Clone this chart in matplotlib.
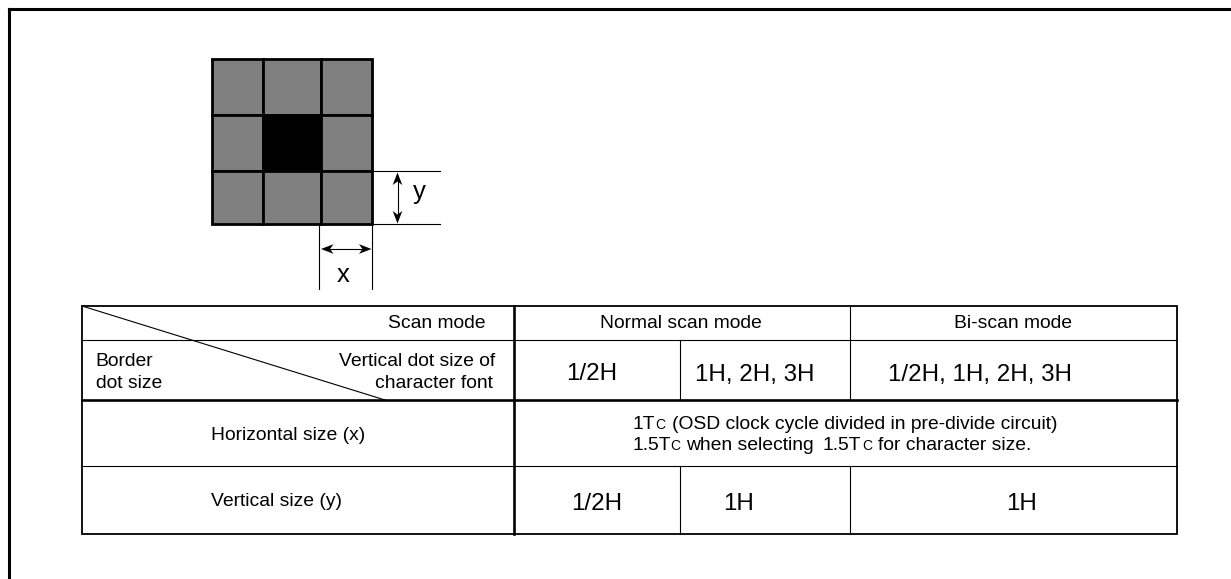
import matplotlib
matplotlib.use("Agg")
import matplotlib.pyplot as plt
from matplotlib.patches import Rectangle, Polygon

W, H = 1231, 579
plt.rcParams['font.family'] = ['Liberation Sans', 'DejaVu Sans']

# dot grid
grid_x = [212, 263, 321, 372]
grid_y = [59, 115, 171, 224]
grid_fill = [['#808080', '#808080', '#808080'],
             ['#808080', '#000000', '#808080'],
             ['#808080', '#808080', '#808080']]

# table lines
tx = [82, 513.5, 680, 849.5, 1177]
ty = [306, 340, 400, 466, 534]

# table texts: (x, baseline y, text, size, ha)
small = 13.9
large = 17.4
sub = 10.0
labels = [
    (486, 328.5, 'Scan mode', small, 'right'),
    (95.5, 366.5, 'Border', small, 'left'),
    (96, 388.5, 'dot size', small, 'left'),
    (495, 366.5, 'Vertical dot size of', small, 'right'),
    (493, 387.5, 'character font', small, 'right'),
    (365, 439.5, 'Horizontal size (x)', small, 'right'),
    (342, 505.5, 'Vertical size (y)', small, 'right'),
    (681, 328.5, 'Normal scan mode', small, 'center'),
    (1013, 328.5, 'Bi-scan mode', small, 'center'),
    (592, 380.5, '1/2H', large, 'center'),
    (754.5, 380.5, '1H, 2H, 3H', large, 'center'),
    (980, 380.5, '1/2H, 1H, 2H, 3H', large, 'center'),
    (596.5, 510.5, '1/2H', large, 'center'),
    (739, 510.5, '1H', large, 'center'),
    (1022, 510.5, '1H', large, 'center'),
]
note = [
    (633, 429, '1T', small), (655, 429, 'C', sub),
    (672, 429, '(OSD clock cycle divided in pre-divide circuit)', small),
    (633, 449.5, '1.5T', small), (670, 449.5, 'C', sub),
    (686, 449.5, 'when selecting', small), (823, 449.5, '1.5T', small),
    (862, 449.5, 'C', sub), (878, 449.5, 'for character size.', small),
]

fig = plt.figure(figsize=(W / 100, H / 100), dpi=100)
ax = fig.add_axes([0, 0, 1, 1])
ax.set_xlim(0, W)
ax.set_ylim(H, 0)
ax.axis('off')


def line(x0, y0, x1, y1, lw=1.0):
    ax.plot([x0, x1], [y0, y1], color='black', lw=lw, solid_capstyle='projecting')


def head(tx_, ty_, dx, dy, length=12.5, half=4.8, notch=9.0):
    """Concave arrow head with its tip at (tx_, ty_), pointing along (dx, dy)."""
    px, py = -dy, dx
    pts = [(tx_, ty_),
           (tx_ - dx * length + px * half, ty_ - dy * length + py * half),
           (tx_ - dx * notch, ty_ - dy * notch),
           (tx_ - dx * length - px * half, ty_ - dy * length - py * half)]
    ax.add_patch(Polygon(pts, closed=True, facecolor='black', edgecolor='none'))


# page frame, open on the right and bottom
line(8.5, 8.5, W, 8.5, 2.2)
line(8.5, 8.5, 8.5, H, 2.2)

# dot grid
for r in range(3):
    for c in range(3):
        ax.add_patch(Rectangle((grid_x[c], grid_y[r]), grid_x[c + 1] - grid_x[c],
                               grid_y[r + 1] - grid_y[r], facecolor=grid_fill[r][c],
                               edgecolor='black', lw=2.0))

# dimension lines
line(372, 171, 440, 171, 0.8)
line(372, 224, 440, 224, 0.8)
line(319, 224, 319, 289, 0.8)
line(372, 224, 372, 289, 0.8)
line(397.5, 180, 397.5, 215, 0.8)
line(330, 249, 362, 249, 0.8)
head(397.5, 172.5, 0, -1)
head(397.5, 223.5, 0, 1)
head(321, 249, -1, 0)
head(371.5, 249, 1, 0)
ax.text(413, 199, 'y', fontsize=18.5, ha='left', va='baseline')
ax.text(343.5, 281.5, 'x', fontsize=18.5, ha='center', va='baseline')

# table
ax.add_patch(Rectangle((tx[0], ty[0]), tx[-1] - tx[0], ty[-1] - ty[0], fill=False,
                       edgecolor='black', lw=1.3))
line(tx[0], ty[1], tx[-1], ty[1], 0.8)
line(tx[0], ty[2], tx[-1], ty[2], 1.9)
line(tx[0], ty[3], tx[-1], ty[3], 0.8)
line(tx[1], ty[0], tx[1], ty[-1], 1.9)
line(tx[2], ty[1], tx[2], ty[2], 0.8)
line(tx[2], ty[3], tx[2], ty[4], 0.8)
line(tx[3], ty[0], tx[3], ty[2], 0.8)
line(tx[3], ty[3], tx[3], ty[4], 0.8)
line(tx[0], ty[0], 385, ty[2], 0.8)

for x, y, s, size, ha in labels:
    ax.text(x, y, s, fontsize=size, ha=ha, va='baseline')

for x, y, s, size in note:
    ax.text(x, y, s, fontsize=size, ha='left', va='baseline')

fig.savefig('out.png', dpi=100, facecolor='white')
